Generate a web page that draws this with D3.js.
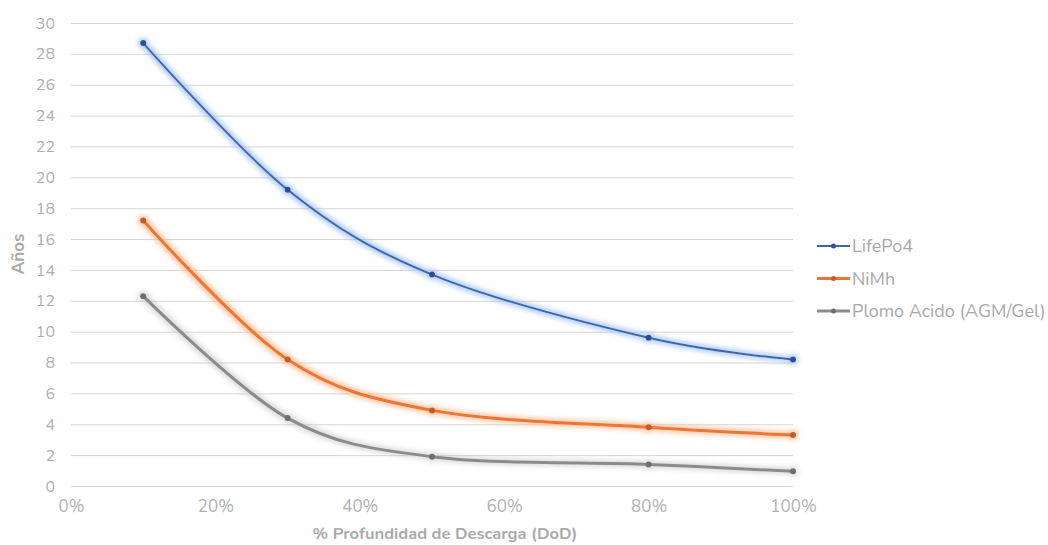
<!DOCTYPE html>
<html><head><meta charset="utf-8">
<script src="https://cdn.jsdelivr.net/npm/d3@7"></script>
<style>body{margin:0;background:#fff}svg{display:block}text{font-family:"Nunito","Lato","Open Sans",sans-serif}</style>
</head><body><svg id="c" width="1048" height="545"></svg>
<script>
const dod = [10, 30, 50, 80, 100];
const lifepo4 = [28.7, 19.2, 13.7, 9.6, 8.2];
const nimh = [17.2, 8.2, 4.9, 3.8, 3.3];
const plomo = [12.3, 4.4, 1.9, 1.4, 0.95];
const seriesNames = ["LifePo4", "NiMh", "Plomo Acido (AGM/Gel)"];
const seriesColors = ["#3c66b0", "#ee7530", "#8b8b8b"];
const markerColors = ["#2c509a", "#c75a20", "#6e6e6e"];
const seriesWidths = [2, 3, 3];
const glowColors = ["#9cc0ee", "#f7b88c", "#c4c4c4"];
const yTicks = d3.range(0, 31, 2);
const xTicks = [0, 20, 40, 60, 80, 100];
const xTitle = "% Profundidad de Descarga (DoD)";
const yTitle = "Años";
const data = [lifepo4, nimh, plomo];

const svg = d3.select("#c");
const x = d3.scaleLinear().domain([0, 100]).range([71, 793]);
const y = d3.scaleLinear().domain([0, 30]).range([486, 23]);
const defs = svg.append("defs");
glowColors.forEach((c, i) => {
  const f = defs.append("filter").attr("id", "glow" + i).attr("x", "-10%").attr("y", "-10%").attr("width", "120%").attr("height", "120%");
  f.append("feMorphology").attr("in", "SourceAlpha").attr("operator", "dilate").attr("radius", 1.5).attr("result", "d");
  f.append("feGaussianBlur").attr("in", "d").attr("stdDeviation", 2.5).attr("result", "b");
  f.append("feFlood").attr("flood-color", c).attr("flood-opacity", i === 2 ? 0.6 : 0.8);
  f.append("feComposite").attr("in2", "b").attr("operator", "in").attr("result", "g");
  const m = f.append("feMerge");
  m.append("feMergeNode").attr("in", "g");
  m.append("feMergeNode").attr("in", "SourceGraphic");
});

const yAxis = d3.axisLeft(y).tickValues(yTicks).tickSize(-(793 - 71)).tickPadding(16);
const gy = svg.append("g").attr("transform", "translate(71,0)").call(yAxis);
gy.select(".domain").remove();
gy.selectAll(".tick line").attr("stroke", "#d9d5d3").attr("stroke-width", 1);
gy.selectAll(".tick text").attr("fill", "#b0b0b0").attr("font-size", 16);

const xAxis = d3.axisBottom(x).tickValues(xTicks).tickFormat(d => d + "%").tickSize(0).tickPadding(14);
const gx = svg.append("g").attr("transform", "translate(0,486)").call(xAxis);
gx.select(".domain").remove();
gx.selectAll(".tick text").attr("fill", "#b0b0b0").attr("font-size", 17);

svg.append("text").attr("x", 445).attr("y", 539).attr("text-anchor", "middle")
  .attr("font-size", 16.5).attr("font-weight", "bold").attr("fill", "#aaaaaa").text(xTitle);
svg.append("text").attr("transform", "translate(24,254) rotate(-90)").attr("text-anchor", "middle")
  .attr("font-size", 17).attr("font-weight", "bold").attr("fill", "#aaaaaa").text(yTitle);

const line = d3.line().x((d, i) => x(dod[i])).y(d => y(d)).curve(d3.curveCatmullRom.alpha(0));
data.slice().reverse().forEach((s, ri) => {
  const i = data.length - 1 - ri;
  const g = svg.append("g").attr("filter", "url(#glow" + i + ")");
  g.append("path").datum(s).attr("d", line).attr("fill", "none")
    .attr("stroke", seriesColors[i]).attr("stroke-width", seriesWidths[i]).attr("stroke-linecap", "round");
  g.selectAll("circle").data(s).join("circle")
    .attr("cx", (d, j) => x(dod[j])).attr("cy", d => y(d)).attr("r", 3).attr("fill", markerColors[i]);
});

const lg = svg.append("g");
seriesNames.forEach((n, i) => {
  const yy = 246 + i * 32.5;
  lg.append("line").attr("x1", 817).attr("x2", 850).attr("y1", yy).attr("y2", yy)
    .attr("stroke", seriesColors[i]).attr("stroke-width", seriesWidths[i]);
  lg.append("circle").attr("cx", 833.5).attr("cy", yy).attr("r", 2.5).attr("fill", markerColors[i]);
  lg.append("text").attr("x", 852).attr("y", yy + 6).attr("font-size", 18).attr("fill", "#a8a8a8").text(n);
});
</script></body></html>
